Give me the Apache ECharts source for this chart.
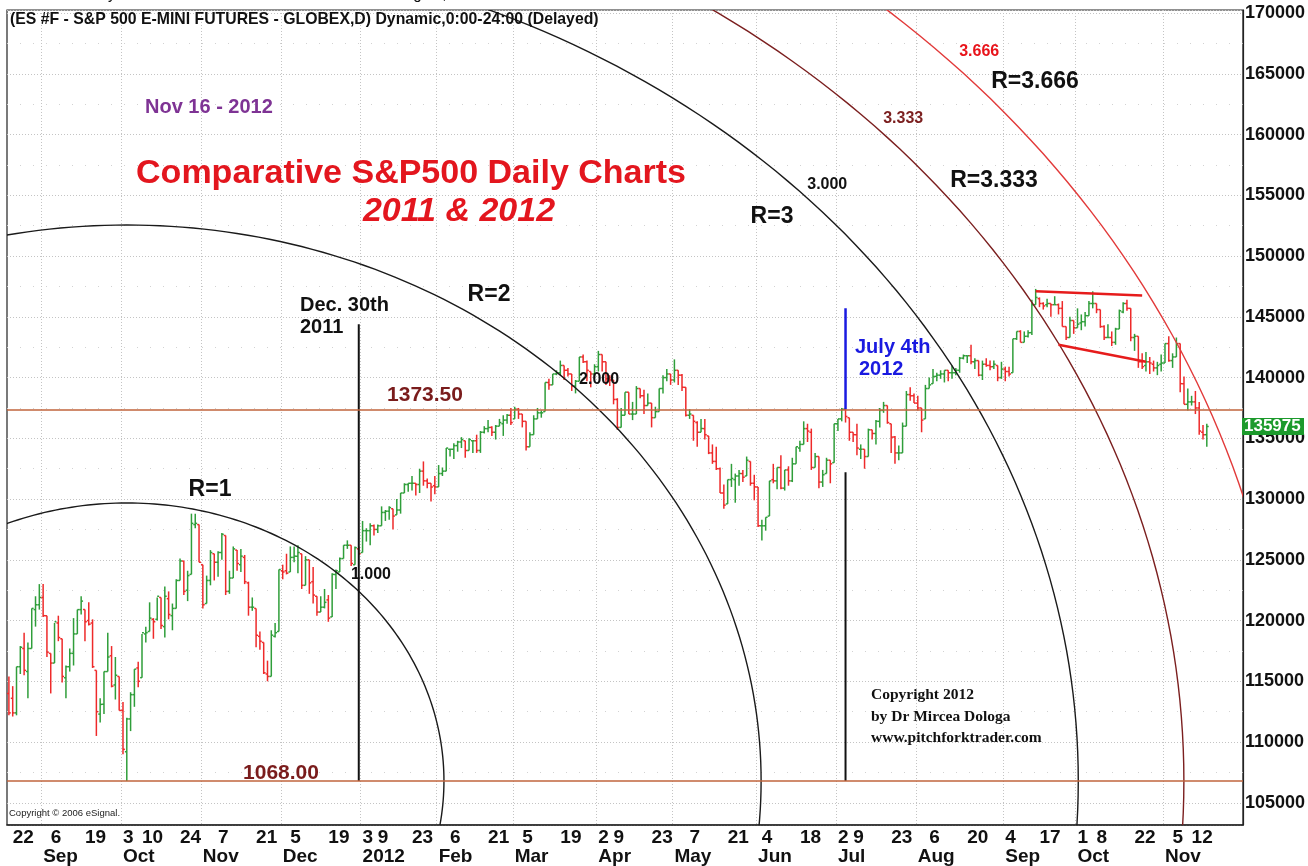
<!DOCTYPE html>
<html>
<head>
<meta charset="utf-8">
<title>Comparative S&P500 Daily Charts 2011 &amp; 2012</title>
<script src="https://cdn.jsdelivr.net/npm/echarts@6/dist/echarts.min.js"></script>
<style>
  html, body { margin: 0; padding: 0; background: #fff; }
  #chart { width: 1308px; height: 866px; }
</style>
</head>
<body>
<div id="chart"></div>
<script>
// ES #F daily bars: [day, open, high, low, close]
const aug2011 = [
  [19, 1140, 1154, 1122, 1124], [22, 1136, 1146, 1121, 1124], [23, 1124, 1162, 1122, 1162],
  [24, 1162, 1179, 1156, 1178], [25, 1177, 1190, 1155, 1159], [26, 1158, 1182, 1136, 1177],
  [29, 1177, 1210, 1177, 1210], [30, 1209, 1220, 1195, 1213], [31, 1213, 1230, 1209, 1219]
];
const sep2011 = [
  [1, 1219, 1230, 1203, 1204], [2, 1204, 1204, 1170, 1174], [6, 1173, 1173, 1140, 1165],
  [7, 1165, 1198, 1165, 1199], [8, 1198, 1204, 1183, 1186], [9, 1185, 1185, 1149, 1154],
  [12, 1153, 1163, 1136, 1162], [13, 1162, 1177, 1158, 1173], [14, 1173, 1202, 1163, 1189],
  [15, 1189, 1209, 1189, 1209], [16, 1209, 1220, 1205, 1216], [19, 1209, 1209, 1183, 1199],
  [20, 1200, 1215, 1196, 1197], [21, 1198, 1201, 1161, 1162], [22, 1159, 1159, 1105, 1125],
  [23, 1123, 1136, 1116, 1131], [26, 1131, 1158, 1123, 1158], [27, 1158, 1190, 1158, 1170],
  [28, 1171, 1179, 1145, 1146], [29, 1147, 1170, 1135, 1155], [30, 1154, 1154, 1126, 1126]
];
const oct2011 = [
  [3, 1126, 1133, 1090, 1094], [4, 1092, 1120, 1068, 1119], [5, 1119, 1141, 1109, 1139],
  [6, 1139, 1160, 1129, 1160], [7, 1161, 1166, 1145, 1150], [10, 1153, 1189, 1153, 1190],
  [11, 1189, 1195, 1182, 1190], [12, 1191, 1215, 1191, 1202], [13, 1201, 1202, 1185, 1199],
  [14, 1201, 1219, 1200, 1220], [17, 1219, 1219, 1193, 1196], [18, 1195, 1228, 1186, 1220],
  [19, 1218, 1224, 1201, 1205], [20, 1204, 1214, 1192, 1210], [21, 1210, 1234, 1210, 1233],
  [24, 1233, 1251, 1233, 1249], [25, 1249, 1249, 1221, 1224], [26, 1225, 1241, 1216, 1237],
  [27, 1238, 1288, 1238, 1280], [28, 1279, 1288, 1276, 1280], [31, 1279, 1279, 1248, 1248]
];
const nov2011 = [
  [1, 1246, 1246, 1210, 1213], [2, 1214, 1237, 1214, 1233], [3, 1233, 1258, 1229, 1256],
  [4, 1255, 1255, 1233, 1248], [7, 1248, 1257, 1236, 1256], [8, 1256, 1272, 1250, 1271],
  [9, 1270, 1270, 1221, 1224], [10, 1224, 1241, 1222, 1235], [11, 1235, 1261, 1235, 1259],
  [14, 1258, 1258, 1241, 1247], [15, 1246, 1259, 1240, 1253], [16, 1252, 1254, 1230, 1232],
  [17, 1231, 1232, 1204, 1211], [18, 1211, 1219, 1208, 1211], [21, 1210, 1210, 1178, 1188],
  [22, 1187, 1191, 1176, 1183], [23, 1182, 1182, 1156, 1157], [25, 1156, 1167, 1150, 1154],
  [28, 1154, 1192, 1154, 1188], [29, 1187, 1198, 1186, 1190], [30, 1191, 1242, 1191, 1242]
];
const dec2011 = [
  [1, 1241, 1246, 1234, 1240], [2, 1241, 1255, 1238, 1239], [5, 1240, 1261, 1240, 1252],
  [6, 1252, 1261, 1248, 1253], [7, 1253, 1262, 1239, 1256], [8, 1255, 1255, 1226, 1229],
  [9, 1229, 1253, 1229, 1250], [12, 1250, 1250, 1222, 1231], [13, 1232, 1244, 1214, 1221],
  [14, 1220, 1220, 1204, 1207], [15, 1207, 1220, 1207, 1211], [16, 1211, 1226, 1210, 1215],
  [19, 1217, 1221, 1199, 1202], [20, 1203, 1239, 1203, 1238], [21, 1238, 1242, 1226, 1241],
  [22, 1240, 1252, 1240, 1251], [23, 1251, 1262, 1251, 1262], [27, 1262, 1266, 1259, 1262],
  [28, 1262, 1262, 1245, 1247], [29, 1246, 1261, 1246, 1260], [30, 1259, 1261, 1254, 1255]
];
const jan2012 = [
  [3, 1256, 1282, 1256, 1274], [4, 1274, 1276, 1265, 1274], [5, 1274, 1280, 1262, 1278],
  [6, 1278, 1279, 1270, 1275], [9, 1275, 1279, 1272, 1278], [10, 1278, 1294, 1278, 1289],
  [11, 1289, 1291, 1282, 1290], [12, 1290, 1294, 1283, 1293], [13, 1292, 1292, 1275, 1286],
  [17, 1287, 1300, 1287, 1291], [18, 1291, 1305, 1288, 1305], [19, 1305, 1313, 1305, 1312],
  [20, 1312, 1313, 1306, 1313], [23, 1313, 1319, 1307, 1313], [24, 1313, 1313, 1303, 1312],
  [25, 1312, 1325, 1305, 1323], [26, 1323, 1331, 1311, 1315], [27, 1315, 1317, 1309, 1313],
  [30, 1313, 1313, 1298, 1310], [31, 1311, 1319, 1304, 1310]
];
const feb2012 = [
  [1, 1310, 1328, 1310, 1321], [2, 1321, 1326, 1319, 1323], [3, 1323, 1342, 1323, 1342],
  [6, 1341, 1341, 1335, 1341], [7, 1341, 1346, 1333, 1344], [8, 1344, 1348, 1339, 1347],
  [9, 1347, 1351, 1342, 1349], [10, 1348, 1348, 1334, 1340], [13, 1340, 1350, 1340, 1349],
  [14, 1348, 1348, 1338, 1348], [15, 1348, 1353, 1338, 1340], [16, 1340, 1356, 1338, 1355],
  [17, 1355, 1360, 1354, 1358], [21, 1358, 1365, 1355, 1359], [22, 1359, 1360, 1352, 1355],
  [23, 1355, 1361, 1349, 1360], [24, 1360, 1366, 1360, 1363], [27, 1362, 1369, 1352, 1365],
  [28, 1365, 1370, 1362, 1369], [29, 1369, 1375, 1361, 1363]
];
const mar2012 = [
  [1, 1366, 1376, 1366, 1374], [2, 1374, 1375, 1366, 1370], [5, 1370, 1370, 1359, 1364],
  [6, 1364, 1364, 1340, 1343], [7, 1343, 1355, 1343, 1353], [8, 1353, 1369, 1353, 1366],
  [9, 1366, 1375, 1366, 1371], [12, 1371, 1373, 1367, 1371], [13, 1372, 1396, 1372, 1396],
  [14, 1396, 1399, 1390, 1394], [15, 1394, 1403, 1394, 1403], [16, 1403, 1406, 1402, 1404],
  [19, 1404, 1414, 1402, 1410], [20, 1410, 1410, 1398, 1406], [21, 1406, 1408, 1401, 1403],
  [22, 1403, 1403, 1389, 1393], [23, 1393, 1398, 1387, 1397], [26, 1397, 1417, 1397, 1417],
  [27, 1417, 1419, 1412, 1413], [28, 1413, 1414, 1397, 1406], [29, 1405, 1405, 1392, 1403],
  [30, 1403, 1411, 1401, 1409]
];
const apr2012 = [
  [2, 1409, 1422, 1405, 1419], [3, 1419, 1419, 1405, 1413], [4, 1413, 1413, 1394, 1399],
  [5, 1399, 1402, 1393, 1398], [9, 1398, 1398, 1378, 1382], [10, 1382, 1383, 1357, 1359],
  [11, 1359, 1375, 1359, 1369], [12, 1369, 1388, 1369, 1388], [13, 1388, 1388, 1370, 1370],
  [16, 1370, 1380, 1365, 1370], [17, 1370, 1393, 1370, 1391], [18, 1391, 1391, 1383, 1385],
  [19, 1385, 1390, 1370, 1377], [20, 1377, 1387, 1377, 1379], [23, 1379, 1379, 1359, 1367],
  [24, 1367, 1376, 1367, 1372], [25, 1372, 1391, 1372, 1391], [26, 1391, 1402, 1387, 1400],
  [27, 1400, 1407, 1397, 1403], [30, 1403, 1403, 1394, 1398]
];
const may2012 = [
  [1, 1398, 1415, 1396, 1406], [2, 1406, 1406, 1394, 1402], [3, 1402, 1403, 1389, 1392],
  [4, 1392, 1392, 1368, 1369], [7, 1369, 1374, 1366, 1370], [8, 1369, 1369, 1348, 1364],
  [9, 1363, 1364, 1343, 1355], [10, 1355, 1366, 1355, 1358], [11, 1358, 1366, 1349, 1353],
  [14, 1352, 1352, 1337, 1338], [15, 1338, 1345, 1329, 1331], [16, 1331, 1343, 1324, 1325],
  [17, 1325, 1326, 1305, 1305], [18, 1305, 1312, 1292, 1295], [21, 1296, 1316, 1296, 1316],
  [22, 1316, 1329, 1310, 1317], [23, 1316, 1321, 1297, 1319], [24, 1319, 1324, 1311, 1321],
  [25, 1321, 1324, 1314, 1318], [29, 1319, 1335, 1319, 1332], [30, 1331, 1331, 1311, 1313],
  [31, 1313, 1320, 1299, 1310]
];
const jun2012 = [
  [1, 1310, 1310, 1277, 1278], [4, 1278, 1283, 1266, 1278], [5, 1278, 1285, 1274, 1285],
  [6, 1286, 1315, 1286, 1315], [7, 1316, 1329, 1313, 1315], [8, 1315, 1326, 1308, 1326],
  [11, 1326, 1336, 1308, 1309], [12, 1309, 1324, 1307, 1324], [13, 1324, 1327, 1311, 1315],
  [14, 1315, 1334, 1314, 1329], [15, 1329, 1343, 1329, 1343], [18, 1342, 1348, 1339, 1345],
  [19, 1345, 1364, 1345, 1358], [20, 1358, 1362, 1347, 1356], [21, 1355, 1358, 1324, 1326],
  [22, 1326, 1338, 1326, 1335], [25, 1335, 1335, 1309, 1314], [26, 1314, 1324, 1310, 1320],
  [27, 1321, 1334, 1321, 1332], [28, 1332, 1332, 1313, 1329], [29, 1330, 1362, 1330, 1362]
];
const jul2012 = [
  [2, 1362, 1366, 1356, 1366], [3, 1366, 1375, 1364, 1374], [5, 1374, 1374, 1363, 1368],
  [6, 1367, 1367, 1348, 1355], [9, 1355, 1355, 1347, 1353], [10, 1353, 1362, 1336, 1342],
  [11, 1341, 1345, 1333, 1341], [12, 1341, 1341, 1325, 1335], [13, 1335, 1358, 1335, 1357],
  [16, 1357, 1357, 1349, 1354], [17, 1354, 1365, 1345, 1364], [18, 1364, 1375, 1359, 1373],
  [19, 1373, 1380, 1371, 1377], [20, 1377, 1377, 1362, 1363], [23, 1362, 1362, 1338, 1351],
  [24, 1351, 1352, 1329, 1338], [25, 1338, 1344, 1332, 1338], [26, 1338, 1363, 1338, 1360],
  [27, 1360, 1389, 1360, 1386], [30, 1386, 1392, 1381, 1385], [31, 1385, 1387, 1379, 1379]
];
const aug2012 = [
  [1, 1379, 1385, 1373, 1375], [2, 1375, 1375, 1355, 1365], [3, 1366, 1394, 1366, 1391],
  [6, 1391, 1400, 1391, 1394], [7, 1395, 1407, 1395, 1401], [8, 1401, 1404, 1397, 1402],
  [9, 1402, 1406, 1399, 1403], [10, 1403, 1406, 1396, 1406], [13, 1406, 1406, 1397, 1404],
  [14, 1404, 1410, 1399, 1404], [15, 1404, 1408, 1402, 1406], [16, 1406, 1417, 1404, 1416],
  [17, 1416, 1419, 1415, 1418], [20, 1418, 1418, 1412, 1418], [21, 1418, 1427, 1411, 1413],
  [22, 1413, 1416, 1407, 1414], [23, 1414, 1414, 1401, 1402], [24, 1402, 1414, 1398, 1411],
  [27, 1411, 1416, 1409, 1410], [28, 1410, 1414, 1406, 1409], [29, 1409, 1414, 1407, 1411],
  [30, 1410, 1410, 1397, 1400], [31, 1400, 1413, 1399, 1407]
];
const sep2012 = [
  [4, 1407, 1409, 1397, 1405], [5, 1405, 1409, 1401, 1403], [6, 1404, 1432, 1404, 1432],
  [7, 1432, 1438, 1431, 1438], [10, 1438, 1439, 1429, 1429], [11, 1429, 1438, 1429, 1434],
  [12, 1434, 1439, 1433, 1437], [13, 1437, 1464, 1435, 1460], [14, 1460, 1473, 1460, 1466],
  [17, 1465, 1466, 1458, 1461], [18, 1461, 1462, 1456, 1459], [19, 1460, 1465, 1458, 1461],
  [20, 1461, 1461, 1450, 1460], [21, 1460, 1467, 1460, 1460], [24, 1460, 1461, 1452, 1457],
  [25, 1457, 1463, 1442, 1442], [26, 1442, 1442, 1431, 1433], [27, 1433, 1450, 1433, 1447],
  [28, 1447, 1447, 1436, 1441]
];
const oct2012 = [
  [1, 1441, 1457, 1441, 1444], [2, 1445, 1452, 1439, 1446], [3, 1446, 1454, 1442, 1451],
  [4, 1451, 1463, 1451, 1461], [5, 1461, 1471, 1457, 1461], [8, 1461, 1461, 1453, 1456],
  [9, 1456, 1456, 1441, 1442], [10, 1442, 1443, 1431, 1433], [11, 1433, 1444, 1433, 1433],
  [12, 1433, 1438, 1426, 1429], [15, 1429, 1441, 1427, 1440], [16, 1440, 1456, 1440, 1455],
  [17, 1454, 1462, 1453, 1461], [18, 1461, 1464, 1455, 1457], [19, 1457, 1457, 1430, 1433],
  [22, 1433, 1436, 1422, 1434], [23, 1434, 1434, 1408, 1413], [24, 1413, 1420, 1407, 1409],
  [25, 1410, 1421, 1405, 1413], [26, 1413, 1417, 1403, 1412], [29, 1411, 1414, 1405, 1408],
  [30, 1408, 1413, 1402, 1410], [31, 1411, 1419, 1405, 1412]
];
const nov2012 = [
  [1, 1412, 1428, 1412, 1428], [2, 1428, 1434, 1413, 1414], [5, 1414, 1420, 1408, 1417],
  [6, 1417, 1433, 1417, 1428], [7, 1428, 1428, 1388, 1395], [8, 1395, 1401, 1378, 1378],
  [9, 1378, 1391, 1373, 1380], [12, 1380, 1385, 1377, 1380], [13, 1380, 1389, 1370, 1375],
  [14, 1375, 1380, 1353, 1356], [15, 1355, 1361, 1349, 1353], [16, 1353, 1362, 1343, 1359.75]
];
const MONTHS = [
  ['2011-08', aug2011], ['2011-09', sep2011], ['2011-10', oct2011], ['2011-11', nov2011],
  ['2011-12', dec2011], ['2012-01', jan2012], ['2012-02', feb2012], ['2012-03', mar2012],
  ['2012-04', apr2012], ['2012-05', may2012], ['2012-06', jun2012], ['2012-07', jul2012],
  ['2012-08', aug2012], ['2012-09', sep2012], ['2012-10', oct2012], ['2012-11', nov2012]
];
// empty sessions to the right of the last bar
const PAD_DATES = ['2012-11-19', '2012-11-20', '2012-11-21', '2012-11-23', '2012-11-26',
  '2012-11-27', '2012-11-28', '2012-11-29', '2012-11-30'];

// x axis labels
const DAY_LABELS = ['2011-08-22', '2011-09-06', '2011-09-19', '2011-10-03', '2011-10-10',
  '2011-10-24', '2011-11-07', '2011-11-21', '2011-12-05', '2011-12-19', '2012-01-03',
  '2012-01-09', '2012-01-23', '2012-02-06', '2012-02-21', '2012-03-05', '2012-03-19',
  '2012-04-02', '2012-04-09', '2012-04-23', '2012-05-07', '2012-05-21', '2012-06-04',
  '2012-06-18', '2012-07-02', '2012-07-09', '2012-07-23', '2012-08-06', '2012-08-20',
  '2012-09-04', '2012-09-17', '2012-10-01', '2012-10-08', '2012-10-22', '2012-11-05',
  '2012-11-12'];
const MONTH_STARTS = ['2011-09-01', '2011-10-03', '2011-11-01', '2011-12-01', '2012-01-03',
  '2012-02-01', '2012-03-01', '2012-04-02', '2012-05-01', '2012-06-01', '2012-07-02',
  '2012-08-01', '2012-09-04', '2012-10-01', '2012-11-01'];
const MONTH_NAMES = ['Sep', 'Oct', 'Nov', 'Dec', '2012', 'Feb', 'Mar', 'Apr', 'May', 'Jun',
  'Jul', 'Aug', 'Sep', 'Oct', 'Nov'];

// drawn annotations
const H_LINES = [1373.5, 1068];
const V_LINES = [
  { date: '2011-12-30', from: 1068, to: 1444, color: '#111111', width: 2 },
  { date: '2012-07-05', from: 1374, to: 1457, color: '#1a1ae0', width: 2.5 },
  { date: '2012-07-05', from: 1068, to: 1322, color: '#111111', width: 2 }
];
const TREND_LINES = [
  [['2012-09-14', 1471], ['2012-10-24', 1467.5]],
  [['2012-09-24', 1427], ['2012-10-25', 1413]]
];
const ARC_CENTER = ['2011-10-04', 1068];
const ARC_RX_BARS = 83.4;
const ARC_RY_PTS = 228.8;
const ARC_LABEL_ANGLE = 44;
const ARC_RATIOS = [1, 2, 3, 3.333, 3.666];
const ARC_LABELS = ['1.000', '2.000', '3.000', '3.333', '3.666'];
const ARC_COLORS = ['#1a1a1a', '#1a1a1a', '#1a1a1a', '#7b1f1f', '#e23a3a'];
const ARC_LABEL_COLORS = ['#111', '#111', '#111', '#7b1f1f', '#e8141b'];

const GREEN = '#2f9e3a';
const RED = '#ee2a2a';
const SANS = '"Liberation Sans", Arial, sans-serif';
const NARROW = '"Liberation Sans Narrow", "Liberation Sans", Arial, sans-serif';
const SERIF = '"Liberation Serif", "Times New Roman", serif';

const dates = [];
const bars = [];
MONTHS.forEach(([ym, rows]) => {
  rows.forEach(r => {
    dates.push(ym + '-' + String(r[0]).padStart(2, '0'));
    bars.push([bars.length, r[1], r[2], r[3], r[4]]);
  });
});
const categories = dates.concat(PAD_DATES);
const daySet = new Set(DAY_LABELS);
const monthSet = new Set(MONTH_STARTS);
const arcCenterIdx = dates.indexOf(ARC_CENTER[0]);

function renderBar(params, api) {
  const i = api.value(0);
  const o = api.coord([i, api.value(1)]);
  const h = api.coord([i, api.value(2)]);
  const l = api.coord([i, api.value(3)]);
  const c = api.coord([i, api.value(4)]);
  const half = api.size([1, 0])[0] * 0.5;
  const col = api.value(4) >= api.value(1) ? GREEN : RED;
  const st = { stroke: col, lineWidth: 1.5 };
  return {
    type: 'group',
    children: [
      { type: 'line', shape: { x1: h[0], y1: h[1], x2: l[0], y2: l[1] }, style: st },
      { type: 'line', shape: { x1: o[0] - half, y1: o[1], x2: o[0], y2: o[1] }, style: st },
      { type: 'line', shape: { x1: c[0], y1: c[1], x2: c[0] + half, y2: c[1] }, style: st }
    ]
  };
}

function renderArcs(params, api) {
  const c0 = api.coord([arcCenterIdx, ARC_CENTER[1]]);
  const c1 = api.coord([arcCenterIdx + 1, ARC_CENTER[1] + 100]);
  const rx = ARC_RX_BARS * (c1[0] - c0[0]);
  const ry = ARC_RY_PTS * (c0[1] - c1[1]) / 100;
  const t0 = ARC_LABEL_ANGLE * Math.PI / 180;
  const children = [];
  ARC_RATIOS.forEach((r, k) => {
    const pts = [];
    for (let d = 0; d <= 360; d++) {
      const t = d * Math.PI / 180;
      pts.push([c0[0] + r * rx * Math.cos(t), c0[1] - r * ry * Math.sin(t)]);
    }
    children.push({
      type: 'polyline', shape: { points: pts },
      style: { stroke: ARC_COLORS[k], lineWidth: 1.4, fill: 'none' }
    });
    children.push({
      type: 'text',
      x: c0[0] + r * rx * Math.cos(t0) - 4,
      y: c0[1] - r * ry * Math.sin(t0) - 5 - 2 * k,
      style: {
        text: ARC_LABELS[k], fill: ARC_LABEL_COLORS[k], font: 'bold 16px ' + SANS,
        align: 'left', verticalAlign: 'bottom'
      }
    });
  });
  const cs = params.coordSys;
  return {
    type: 'group', children,
    clipPath: { type: 'rect', shape: { x: cs.x, y: cs.y, width: cs.width, height: cs.height } }
  };
}

const chart = echarts.init(document.getElementById('chart'));

const lineSeries = [];
V_LINES.forEach(v => {
  lineSeries.push({
    type: 'line', data: [[v.date, v.from], [v.date, v.to]], showSymbol: false, silent: true,
    lineStyle: { color: v.color, width: v.width }, z: 4
  });
});
TREND_LINES.forEach(t => {
  lineSeries.push({
    type: 'line', data: t, showSymbol: false, silent: true,
    lineStyle: { color: '#e61c1c', width: 2.5 }, z: 4
  });
});

const option = {
  animation: false,
  backgroundColor: '#fff',
  grid: { left: 7, right: 65, top: 10, bottom: 40, show: true, borderColor: '#222', borderWidth: 1.2 },
  xAxis: [
    {
      type: 'category', data: categories, boundaryGap: true, position: 'bottom',
      axisLine: { lineStyle: { color: '#222', width: 1.5 } },
      axisTick: {
        alignWithLabel: true, length: 5, lineStyle: { color: '#222' },
        interval: (i, v) => daySet.has(v) || monthSet.has(v)
      },
      axisLabel: {
        interval: (i, v) => daySet.has(v),
        formatter: v => String(Number(v.slice(8))),
        align: 'left', margin: 3, color: '#111',
        fontFamily: NARROW, fontWeight: 'bold', fontSize: 19
      },
      splitLine: {
        show: true, interval: (i, v) => monthSet.has(v),
        lineStyle: { color: '#c4c4c4', type: [1, 2], width: 1 }
      }
    },
    {
      type: 'category', data: categories, boundaryGap: true, position: 'bottom',
      axisLine: { show: false }, axisTick: { show: false }, splitLine: { show: false },
      axisLabel: {
        interval: (i, v) => monthSet.has(v),
        formatter: v => MONTH_NAMES[MONTH_STARTS.indexOf(v)],
        align: 'left', margin: 22, color: '#111',
        fontFamily: NARROW, fontWeight: 'bold', fontSize: 19
      }
    }
  ],
  yAxis: {
    type: 'value', position: 'right', min: 1031.7, max: 1702.6, splitNumber: 14,
    axisLine: { show: true, lineStyle: { color: '#222', width: 1.2 } },
    axisTick: { show: false },
    axisLabel: {
      showMinLabel: false, showMaxLabel: false, margin: 2, color: '#111',
      fontFamily: SANS, fontWeight: 'bold', fontSize: 18,
      formatter: v => String(Math.round(v * 100))
    },
    splitLine: { show: true, lineStyle: { color: '#c4c4c4', type: [1, 2], width: 1 } },
    minorTick: { show: false, splitNumber: 2 },
    minorSplitLine: { show: true, lineStyle: { color: '#d2d2d2', type: [1, 12], width: 1 } }
  },
  series: [
    {
      type: 'custom', renderItem: renderBar, data: bars,
      encode: { x: 0, y: [1, 2, 3, 4] }, z: 2, silent: true
    },
    {
      type: 'custom', renderItem: renderArcs, data: [[arcCenterIdx, ARC_CENTER[1]]],
      encode: { x: 0, y: 1 }, z: 3, silent: true
    },
    {
      type: 'line', data: [], silent: true, z: 3,
      markLine: {
        silent: true, symbol: ['none', 'none'], label: { show: false },
        lineStyle: { color: '#c0643c', width: 1.6, type: 'solid' },
        data: H_LINES.map(v => ({ yAxis: v }))
      }
    }
  ].concat(lineSeries)
};
chart.setOption(option);

// texts placed after layout so some can follow the axis
const lastClose = bars[bars.length - 1][4];
const yLast = chart.convertToPixel({ yAxisIndex: 0 }, lastClose);
const yHi = chart.convertToPixel({ yAxisIndex: 0 }, H_LINES[0]);
const yLo = chart.convertToPixel({ yAxisIndex: 0 }, H_LINES[1]);

function txt(x, y, text, font, fill, align, sx) {
  return {
    type: 'text', x, y, z: 50, silent: true, scaleX: sx || 1,
    style: { text, font, fill, align: align || 'left', verticalAlign: 'middle' }
  };
}
const graphics = [
  txt(5, -6, '01-SP 500 Daily - Decennial Year -2002-2012 + - \u00a92012 eSignal, Inc.', '17px ' + SANS, '#111', 'left', 0.9),
  txt(10, 19, '(ES #F - S&P 500 E-MINI FUTURES - GLOBEX,D) Dynamic,0:00-24:00 (Delayed)', 'bold 17px ' + NARROW, '#111', 'left', 0.93),
  txt(145, 107, 'Nov 16 - 2012', 'bold 20px ' + SANS, '#7e3394'),
  txt(411, 174, 'Comparative S&P500 Daily Charts', 'bold 34px ' + SANS, '#e3161e', 'center'),
  txt(459, 212, '2011 & 2012', 'italic bold 34px ' + SANS, '#e3161e', 'center'),
  txt(210, 490, 'R=1', 'bold 23px ' + SANS, '#111', 'center'),
  txt(489, 295, 'R=2', 'bold 23px ' + SANS, '#111', 'center'),
  txt(772, 217, 'R=3', 'bold 23px ' + SANS, '#111', 'center'),
  txt(994, 181, 'R=3.333', 'bold 23px ' + SANS, '#111', 'center'),
  txt(1035, 82, 'R=3.666', 'bold 23px ' + SANS, '#111', 'center'),
  txt(300, 305, 'Dec. 30th', 'bold 20px ' + SANS, '#111'),
  txt(300, 327, '2011', 'bold 20px ' + SANS, '#111'),
  txt(855, 347, 'July 4th', 'bold 20px ' + SANS, '#1a1ae0'),
  txt(859, 369, '2012', 'bold 20px ' + SANS, '#1a1ae0'),
  txt(425, yHi - 15, '1373.50', 'bold 21px ' + SANS, '#7a1c1c', 'center'),
  txt(281, yLo - 8, '1068.00', 'bold 21px ' + SANS, '#7a1c1c', 'center'),
  txt(871, 695, 'Copyright 2012', 'bold 15.5px ' + SERIF, '#111'),
  txt(871, 717, 'by Dr Mircea Dologa', 'bold 15.5px ' + SERIF, '#111'),
  txt(871, 738, 'www.pitchforktrader.com', 'bold 15.5px ' + SERIF, '#111'),
  txt(9, 813, 'Copyright \u00a9 2006 eSignal.', '9.5px ' + SANS, '#222'),
  {
    type: 'rect', z: 50, silent: true,
    shape: { x: 1242, y: yLast - 8.5, width: 62, height: 17 },
    style: { fill: '#1c9a2c' }
  },
  txt(1244, yLast, String(Math.round(lastClose * 100)), 'bold 17px ' + SANS, '#fff')
];
chart.setOption({ graphic: graphics });
</script>
</body>
</html>
